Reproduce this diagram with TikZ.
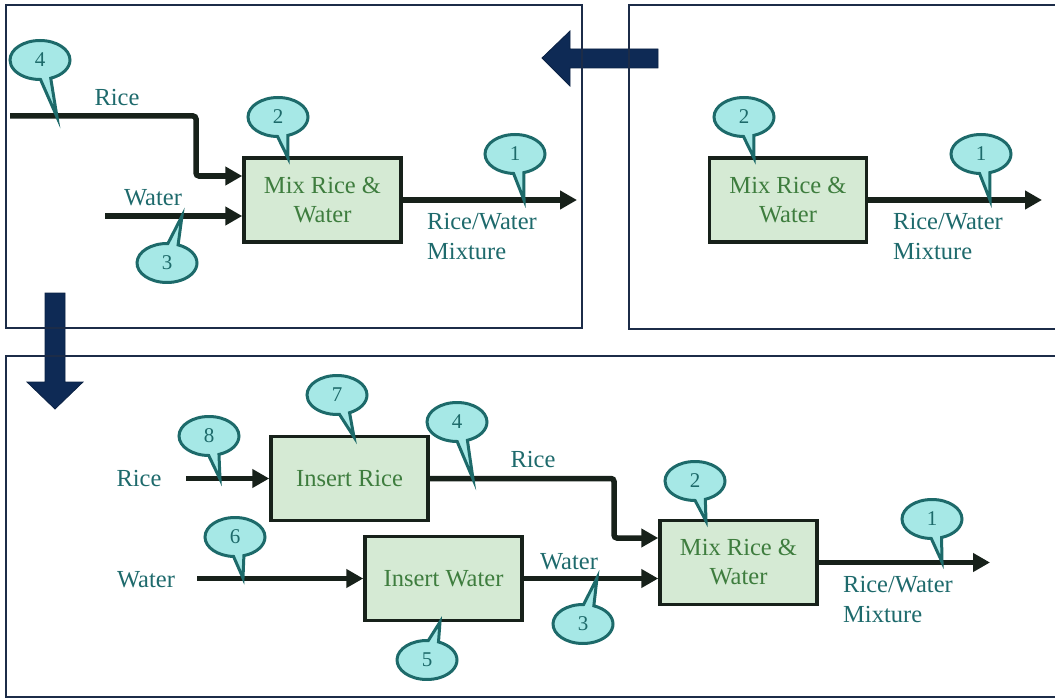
\documentclass[tikz,border=0pt]{standalone}
\usepackage{fontspec}
\setmainfont{Liberation Serif}
\usetikzlibrary{arrows.meta,shapes.callouts}

\definecolor{flowcol}{HTML}{17211A}
\definecolor{boxline}{HTML}{17211A}
\definecolor{boxfill}{HTML}{D5EAD4}
\definecolor{boxtext}{HTML}{3E7D3E}
\definecolor{lblcol}{HTML}{1E6A6C}
\definecolor{tagfill}{HTML}{A6E8E6}
\definecolor{tagline}{HTML}{1D6A6A}
\definecolor{panelcol}{HTML}{1C2C48}
\definecolor{navy}{HTML}{0E2A55}

\begin{document}
\begin{tikzpicture}[x=1pt,y=-1pt,
  flow/.style={draw=flowcol, line width=5.5pt, rounded corners=3pt},
  flowarrow/.style={flow, -{Triangle[length=17pt,width=18pt]}},
  proc/.style={draw=boxline, line width=3.5pt, fill=boxfill, text=boxtext,
    minimum width=157pt, minimum height=84pt, inner sep=0pt, align=center,
    font=\fontsize{24.5}{29}\selectfont},
  lbl/.style={text=lblcol, font=\fontsize{24.5}{30}\selectfont, inner sep=0pt},
  tag/.style={ellipse callout, draw=tagline, fill=tagfill, line width=3pt,
    minimum width=60pt, minimum height=39pt, inner sep=0pt, text=tagline,
    callout pointer arc=20, font=\fontsize{21}{21}\selectfont},
  panel/.style={draw=panelcol, line width=2pt},
  blockarrow/.style={fill=navy, draw=navy!80!black, line width=0.8pt}]

\path[use as bounding box] (0,0) rectangle (1055,698);

% block arrows between the panels
\path[blockarrow] (658,49) -- (570,49) -- (570,31) -- (542,58) -- (570,86)
  -- (570,68) -- (658,68) -- cycle;
\path[blockarrow] (45,293) -- (65,293) -- (65,382) -- (83,382) -- (55,409)
  -- (27,382) -- (45,382) -- cycle;

% panels
\draw[panel] (6,5) rectangle (582,328);
\draw[panel] (629,5) rectangle (1062,329);
\draw[panel] (6,356) rectangle (1062,697);

% ---------- top left: decomposed mixing step ----------
\node[proc] (mixA) at (322.5,200) {Mix Rice \&\\Water};
\coordinate (riceA) at (10,116);
\coordinate (bendA) at (196,176);
\coordinate (waterA) at (105,216);
\coordinate (outA) at (577,200);
\draw[flowarrow] (riceA) -| (bendA) -- (bendA -| mixA.west);
\draw[flowarrow] (waterA) -- (waterA -| mixA.west);
\draw[flowarrow] (mixA.east) -- (outA);
\node[lbl] (riceAl) at (117,98) {Rice};
\node[lbl] (waterAl) at (153,198) {Water};
\node[lbl, align=left, anchor=west] (mixtA) at (427,237) {Rice/Water\\Mixture};
\node[tag, callout absolute pointer={(57,117)}] (t4A) at (40,60) {4};
\node[tag, callout absolute pointer={(288,158)}] (t2A) at (278,117) {2};
\node[tag, callout absolute pointer={(182,216)}] (t3A) at (167,263) {3};
\node[tag, callout absolute pointer={(524,200)}] (t1A) at (515,154) {1};

% ---------- top right: single process ----------
\node[proc] (mixB) at (788,200) {Mix Rice \&\\Water};
\coordinate (outB) at (1042,200);
\draw[flowarrow] (mixB.east) -- (outB);
\node[lbl, align=left, anchor=west] (mixtB) at (893,237) {Rice/Water\\Mixture};
\node[tag, callout absolute pointer={(754,158)}] (t2B) at (744,117) {2};
\node[tag, callout absolute pointer={(990,200)}] (t1B) at (981,154) {1};

% ---------- bottom: full decomposition ----------
\node[proc] (irC) at (349.5,478.5) {Insert Rice};
\node[proc] (iwC) at (443.5,578.5) {Insert Water};
\node[proc] (mixC) at (738.5,562.5) {Mix Rice \&\\Water};
\coordinate (riceC) at (186,478.5);
\coordinate (waterC) at (197,578.5);
\coordinate (bendC) at (614,538);
\coordinate (outC) at (990,562.5);
\draw[flowarrow] (riceC) -- (riceC -| irC.west);
\draw[flowarrow] (waterC) -- (waterC -| iwC.west);
\draw[flowarrow] (irC.east) -| (bendC) -- (bendC -| mixC.west);
\draw[flowarrow] (iwC.east) -- (iwC.east -| mixC.west);
\draw[flowarrow] (mixC.east) -- (outC);
\node[lbl] (riceCl) at (139,479) {Rice};
\node[lbl] (waterCl) at (146,580) {Water};
\node[lbl] (riceMl) at (533,460) {Rice};
\node[lbl] (waterMl) at (569,562) {Water};
\node[lbl, align=left, anchor=west] (mixtC) at (843,600) {Rice/Water\\Mixture};
\node[tag, callout absolute pointer={(220,479)}] (t8C) at (209,436) {8};
\node[tag, callout absolute pointer={(354,437)}] (t7C) at (337,395) {7};
\node[tag, callout absolute pointer={(473,479)}] (t4C) at (457,422) {4};
\node[tag, callout absolute pointer={(243,578)}] (t6C) at (235,537) {6};
\node[tag, callout absolute pointer={(440,622)}] (t5C) at (427,660) {5};
\node[tag, callout absolute pointer={(706,521)}] (t2C) at (695,481) {2};
\node[tag, callout absolute pointer={(942,562)}] (t1C) at (932,519) {1};
\node[tag, callout absolute pointer={(597,578)}] (t3C) at (583,624) {3};
\end{tikzpicture}
\end{document}
